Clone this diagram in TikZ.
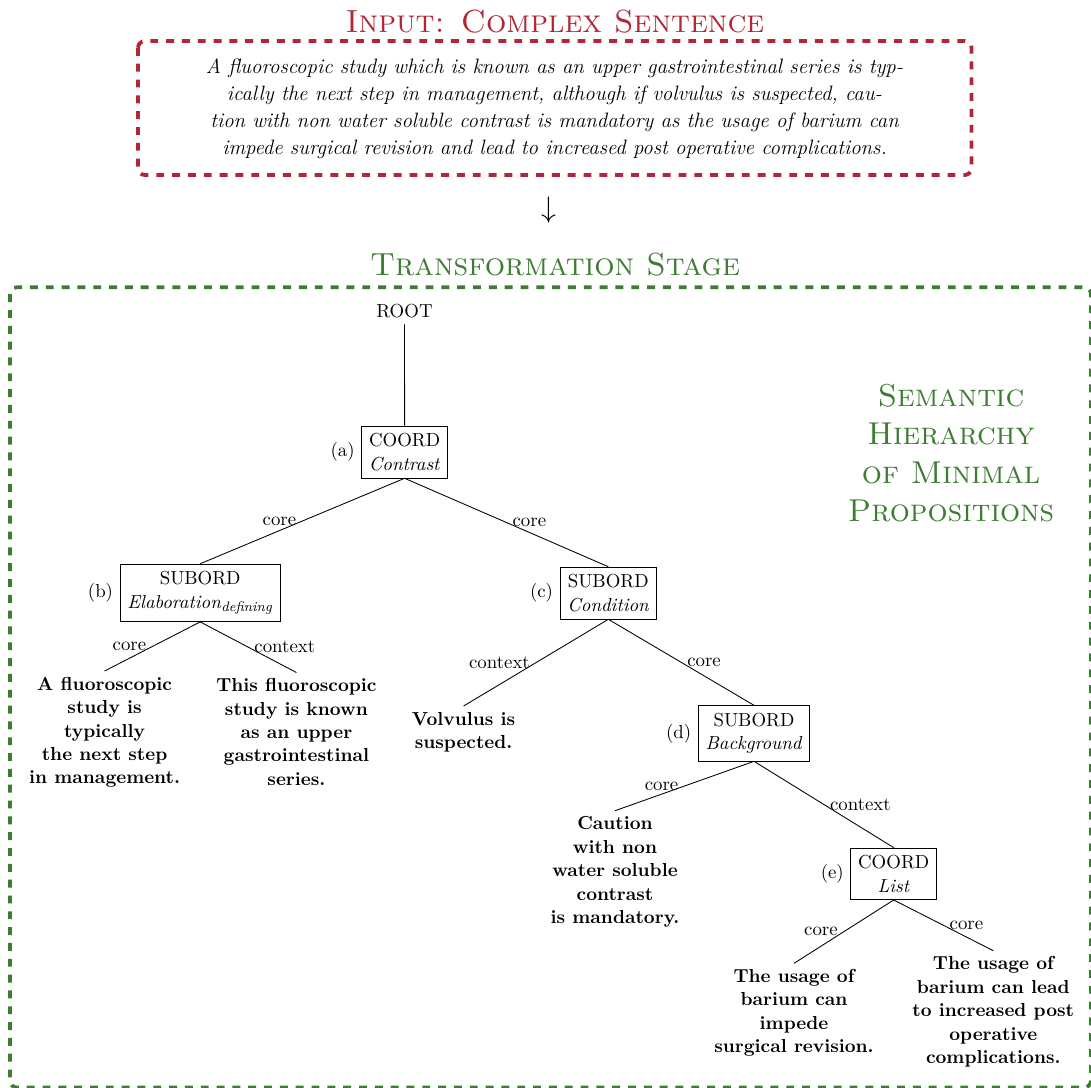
\documentclass[tikz,border=0pt]{standalone}
\usetikzlibrary{positioning}
\definecolor{tred}{RGB}{176,40,56}
\definecolor{tgreen}{RGB}{60,125,50}
\begin{document}
\begin{tikzpicture}[x=0.5814pt,y=-0.5814pt,
  every node/.style={font=\fontsize{10.95}{13.6}\selectfont},
  box/.style={draw, rectangle, align=center, inner sep=4.3pt},
  leaf/.style={align=center, anchor=north, font=\fontsize{10.95}{13.6}\selectfont\bfseries},
  tagl/.style={inner sep=3.65pt},
  heading/.style={anchor=base, font=\fontsize{18.6}{22.3}\selectfont\scshape},
  para/.style={align=center, font=\fontsize{12.1}{15.6}\selectfont\itshape},
  frame/.style={line width=2.2pt, dash pattern=on 4.6pt off 4.6pt, rounded corners=4pt},
  edge/.style={draw, line width=0.5pt}]
\useasboundingbox (0,0) rectangle (1091,1087);

% input
\node[heading, text=tred] (intitle) at (555,32) {Input: Complex Sentence};
\draw[frame, tred] (138,41) rectangle (971.5,175);
\node[para] (sent) at (554.5,108.5) {A fluoroscopic study which is known as an upper gastrointestinal series is typ-\\ically the next step in management, although if volvulus is suspected, cau-\\tion with non water soluble contrast is mandatory as the usage of barium can\\impede surgical revision and lead to increased post operative complications.};
\node (arr) at (549,210) {\fontsize{17.28}{22}\selectfont$\downarrow$};

% transformation
\node[heading, text=tgreen] (trtitle) at (555,275) {Transformation Stage};
\draw[frame, tgreen] (10,287.3) rectangle (1091,1087.5);
\node[align=center, text=tgreen, font=\fontsize{18.4}{22.3}\selectfont\scshape] (sem) at (951,453) {Semantic\\Hierarchy\\of Minimal\\Propositions};

% tree
\node (root) at (404.5,311.5) {ROOT};
\node[box] (a) at (404.6,452) {COORD\\\textit{Contrast}};
\node[box] (b) at (200.2,592.8) {SUBORD\\\textit{Elaboration}\textsubscript{\textit{defining}}};
\node[box] (c) at (608.3,593) {SUBORD\\\textit{Condition}};
\node[box] (d) at (754,733.3) {SUBORD\\\textit{Background}};
\node[box] (e) at (893.7,873.8) {COORD\\\textit{List}};

\node[tagl, left=0pt of a] (ta) {(a)};
\node[tagl, left=0pt of b] (tb) {(b)};
\node[tagl, left=0pt of c] (tc) {(c)};
\node[tagl, left=0pt of d] (td) {(d)};
\node[tagl, left=0pt of e] (te) {(e)};

\node[leaf] (l1) at (104.6,671) {A fluoroscopic\\study is\\typically\\the next step\\in management.};
\node[leaf] (l2) at (296.4,672.5) {This fluoroscopic\\study is known\\as an upper\\gastrointestinal\\series.};
\node[leaf] (l3) at (463.6,706) {Volvulus is\\suspected.};
\node[leaf] (l4) at (615,810.7) {Caution\\with non\\water soluble\\contrast\\is mandatory.};
\node[leaf] (l5) at (794,963.3) {The usage of\\barium can\\impede\\surgical revision.};
\node[leaf] (l6) at (993.3,950.7) {The usage of\\barium can lead\\to increased post\\operative\\complications.};

\draw[edge] (root) -- (a.north);
\draw[edge] (a.south) -- (b.north) node[midway,left] (ea1) {core};
\draw[edge] (a.south) -- (c.north) node[midway,right] (ea2) {core};
\draw[edge] (b.south) -- (l1.north) node[midway,left] (eb1) {core};
\draw[edge] (b.south) -- (l2.north) node[midway,right] (eb2) {context};
\draw[edge] (c.south) -- (l3.north) node[midway,left] (ec1) {context};
\draw[edge] (c.south) -- (d.north) node[midway,right] (ec2) {core};
\draw[edge] (d.south) -- (l4.north) node[midway,left] (ed1) {core};
\draw[edge] (d.south) -- (e.north) node[midway,right] (ed2) {context};
\draw[edge] (e.south) -- (l5.north) node[midway,left] (ee1) {core};
\draw[edge] (e.south) -- (l6.north) node[midway,right] (ee2) {core};
\end{tikzpicture}
\end{document}
